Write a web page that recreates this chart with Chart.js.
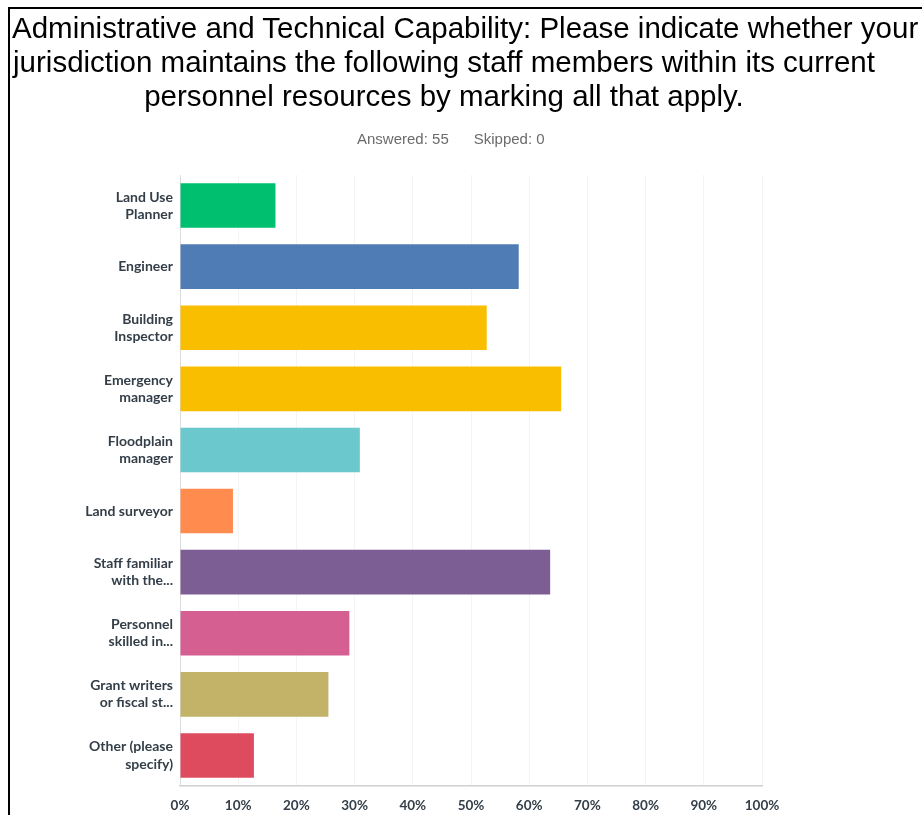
<!DOCTYPE html>
<html>
<head>
<meta charset="utf-8">
<script src="https://cdn.jsdelivr.net/npm/chart.js@4.4.0/dist/chart.umd.min.js"></script>
<style>
  body { margin: 0; background: #fff; }
  #wrap { position: relative; width: 922px; height: 815px; overflow: hidden; }
  #frame {
    position: absolute; left: 8px; top: 7px; width: 940px; height: 840px;
    border-left: 2px solid #000; border-top: 2px solid #000;
  }
  #title {
    position: absolute; left: 12px; top: 11px; width: 864px;
    font-family: "Liberation Sans", Arial, sans-serif; font-size: 29.5px;
    line-height: 34px; color: #000; text-align: center;
  }
  #title div { white-space: nowrap; }
  #answered {
    position: absolute; left: 357px; top: 131px;
    font-family: "Liberation Sans", Arial, sans-serif; font-size: 15px;
    line-height: 15px; color: #6b6b6b; white-space: nowrap;
  }
  #answered span + span { margin-left: 25px; }
  canvas { position: absolute; left: 0; top: 0; }
</style>
</head>
<body>
<div id="wrap">
  <canvas id="chart" width="922" height="815"></canvas>
  <div id="frame"></div>
  <div id="title">
    <div>Administrative and Technical Capability: Please indicate whether your</div>
    <div>jurisdiction maintains the following staff members within its current</div>
    <div>personnel resources by marking all that apply.</div>
  </div>
  <div id="answered"><span>Answered: 55</span><span>Skipped: 0</span></div>
</div>
<script>
const categories = [
  ['Land Use', 'Planner'],
  ['Engineer'],
  ['Building', 'Inspector'],
  ['Emergency', 'manager'],
  ['Floodplain', 'manager'],
  ['Land surveyor'],
  ['Staff familiar', 'with the...'],
  ['Personnel', 'skilled in...'],
  ['Grant writers', 'or fiscal st...'],
  ['Other (please', 'specify)'],
];
// percent of the 55 respondents
const percents = [16.4, 58.2, 52.7, 65.5, 30.9, 9.1, 63.6, 29.1, 25.5, 12.7];
const barColors = [
  '#00bf6f', '#507cb6', '#f9be00', '#f9be00', '#6bc8cd',
  '#ff8b4f', '#7d5e94', '#d55f91', '#c2b369', '#df4b5e',
];
const tickValues = [0, 10, 20, 30, 40, 50, 60, 70, 80, 90, 100];

const labelColor = '#333e48';

const chart = new Chart(document.getElementById('chart'), {
  type: 'bar',
  data: {
    labels: categories,
    datasets: [{
      data: percents,
      backgroundColor: barColors,
      borderWidth: 0,
      barPercentage: 0.73,
      categoryPercentage: 1,
    }],
  },
  options: {
    indexAxis: 'y',
    responsive: false,
    animation: false,
    devicePixelRatio: 1,
    layout: {
      padding: { top: 175, right: 160, bottom: 0, left: 0 },
    },
    plugins: {
      legend: { display: false },
      tooltip: { enabled: false },
    },
    scales: {
      x: {
        min: 0,
        max: 100,
        afterBuildTicks: (scale) => {
          scale.ticks = tickValues.map(v => ({ value: v }));
        },
        afterFit: (scale) => { scale.height = 29; },
        ticks: {
          callback: (v) => v + '%',
          color: labelColor,
          font: { family: 'Lato', weight: 'bold', size: 13.5 },
          padding: 12,
          maxRotation: 0,
          autoSkip: false,
        },
        grid: { color: '#f4f4f6', drawTicks: false },
        border: { display: true, color: '#cfcfcf', width: 1.5 },
      },
      y: {
        afterFit: (scale) => { scale.width = 180; },
        ticks: {
          color: labelColor,
          font: { family: 'Lato', weight: 'bold', size: 14, lineHeight: 1.22 },
          padding: 7,
        },
        grid: { display: false, drawTicks: false },
        border: { display: true, color: '#dcdcdc', width: 1 },
      },
    },
  },
});
</script>
</body>
</html>
